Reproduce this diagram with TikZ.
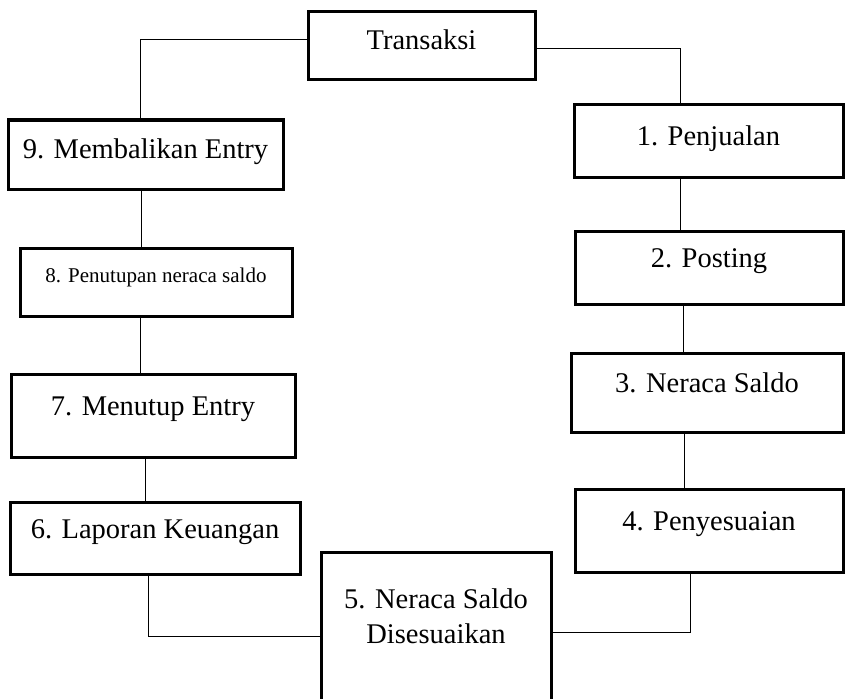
\documentclass[tikz,border=0pt]{standalone}
\usepackage{fontspec}
\setmainfont{Liberation Serif}
\begin{document}
\begin{tikzpicture}[x=1pt, y=-1pt,
 txt/.style={font=\fontsize{28.5}{35}\selectfont},
 box/.style={txt, draw, line width=3pt, inner sep=0pt, text height=12pt, text depth=12pt},
 low/.style={text height=16pt, text depth=8pt},
 link/.style={line width=0.9pt},
]
\useasboundingbox (0,0) rectangle (845,698);

%top
\node[box, low, minimum width=227pt, minimum height=68pt] (bt) at (421.5,46) {Transaksi};

%right column
\node[box, low, minimum width=269pt, minimum height=72pt] (b1) at (708.5,141) {1. Penjualan};
\node[box, minimum width=268pt, minimum height=73pt] (b2) at (709,267.5) {2. Posting};
\node[box, minimum width=272pt, minimum height=79pt] (b3) at (707,392.5) {3. Neraca Saldo};
\node[box, minimum width=268pt, minimum height=83pt] (b4) at (709,530.5) {4. Penyesuaian};

%bottom
\node[box, minimum width=230pt, minimum height=160pt] (b5) at (436,632) {};
\node[txt, align=center, inner sep=0pt, anchor=north] (t5) at (436,589) {5. Neraca Saldo\\Disesuaikan};

%left column
\node[box, minimum width=290pt, minimum height=72pt] (b6) at (155,538) {6. Laporan Keuangan};
\node[box, minimum width=284pt, minimum height=83pt] (b7) at (153,415.5) {7. Menutup Entry};
\node[box, minimum width=272pt, minimum height=68pt, font=\fontsize{21}{25}\selectfont] (b8) at (156,282) {8. Penutupan neraca saldo};
\node[box, low, minimum width=275pt, minimum height=69pt] (b9) at (145.5,154.5) {9. Membalikan Entry};

%corners and line positions
\coordinate (cl) at (140,39);
\coordinate (cr) at (680,48);
\coordinate (x12) at (680,0);
\coordinate (x23) at (683,0);
\coordinate (x34) at (684,0);
\coordinate (c45) at (690,632);
\coordinate (c65) at (148,636);
\coordinate (x76) at (145,0);
\coordinate (x87) at (140,0);
\coordinate (x98) at (141,0);

%connectors
\draw[link] (bt.west |- cl) -- (cl) -- (cl |- b9.north);
\draw[link] (bt.east |- cr) -- (cr) -- (cr |- b1.north);
\draw[link] (b1.south -| x12) -- (b2.north -| x12);
\draw[link] (b2.south -| x23) -- (b3.north -| x23);
\draw[link] (b3.south -| x34) -- (b4.north -| x34);
\draw[link] (b4.south -| c45) -- (c45) -- (c45 -| b5.east);
\draw[link] (b6.south -| c65) -- (c65) -- (c65 -| b5.west);
\draw[link] (b7.south -| x76) -- (b6.north -| x76);
\draw[link] (b8.south -| x87) -- (b7.north -| x87);
\draw[link] (b9.south -| x98) -- (b8.north -| x98);

\end{tikzpicture}
\end{document}
